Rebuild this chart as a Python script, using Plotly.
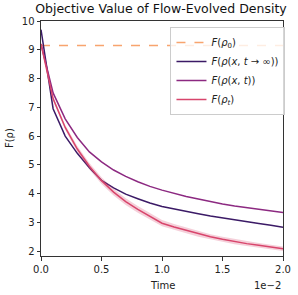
import plotly.graph_objects as go

# time in units of 1e-2
time = [0.0, 0.1, 0.2, 0.3, 0.4, 0.5, 0.6, 0.7, 0.8, 0.9, 1.0,
        1.1, 1.2, 1.3, 1.4, 1.5, 1.6, 1.7, 1.8, 1.9, 2.0]
f_rho0 = 9.15
f_inf = [9.7, 6.95, 6.0, 5.4, 4.9, 4.46, 4.2, 3.98, 3.82, 3.67, 3.55,
         3.46, 3.38, 3.3, 3.22, 3.15, 3.08, 3.02, 2.96, 2.9, 2.83]
f_xt = [9.2, 7.5, 6.6, 5.95, 5.45, 5.1, 4.82, 4.6, 4.41, 4.25, 4.12,
        4.0, 3.9, 3.81, 3.72, 3.64, 3.57, 3.51, 3.45, 3.39, 3.34]
f_t = [9.2, 7.3, 6.3, 5.55, 4.95, 4.45, 4.05, 3.72, 3.45, 3.2, 2.97,
       2.84, 2.72, 2.6, 2.5, 2.41, 2.33, 2.26, 2.2, 2.14, 2.08]
f_t_std = [0.02, 0.06, 0.08, 0.1, 0.11, 0.12, 0.12, 0.12, 0.12, 0.11, 0.11,
           0.1, 0.1, 0.1, 0.09, 0.09, 0.09, 0.08, 0.08, 0.08, 0.08]
xtick_vals = [0.0, 0.5, 1.0, 1.5, 2.0]
xtick_text = ["0.0", "0.5", "1.0", "1.5", "2.0"]
ytick_vals = [2, 3, 4, 5, 6, 7, 8, 9, 10]

c_orange = "#f8a46e"
c_dark = "#3b1a66"
c_purple = "#8c2981"
c_pink = "#d8456c"

fig = go.Figure()
fig.add_trace(go.Scatter(x=[time[0], time[-1]], y=[f_rho0, f_rho0], mode="lines",
                         line=dict(color=c_orange, width=1.5, dash="dash"),
                         name="<i>F</i>(<i>ρ</i><sub>0</sub>)"))
fig.add_trace(go.Scatter(x=time, y=f_inf, mode="lines",
                         line=dict(color=c_dark, width=1.5),
                         name="<i>F</i>(<i>ρ</i>(<i>x</i>, <i>t</i> → ∞))"))
fig.add_trace(go.Scatter(x=time, y=f_xt, mode="lines",
                         line=dict(color=c_purple, width=1.5),
                         name="<i>F</i>(<i>ρ</i>(<i>x</i>, <i>t</i>))"))
upper = [m + s for m, s in zip(f_t, f_t_std)]
lower = [m - s for m, s in zip(f_t, f_t_std)]
fig.add_trace(go.Scatter(x=time, y=upper, mode="lines", line=dict(width=0),
                         showlegend=False, hoverinfo="skip"))
fig.add_trace(go.Scatter(x=time, y=lower, mode="lines", line=dict(width=0),
                         fill="tonexty", fillcolor="rgba(216,69,108,0.25)",
                         showlegend=False, hoverinfo="skip"))
fig.add_trace(go.Scatter(x=time, y=f_t, mode="lines",
                         line=dict(color=c_pink, width=1.5),
                         name="<i>F</i>(<i>ρ</i><sub><i>t</i></sub>)"))

axis_common = dict(showgrid=False, zeroline=False, showline=True, linecolor="#333",
                   linewidth=1, mirror=True, ticks="outside", ticklen=3.5,
                   tickcolor="#333", tickfont=dict(size=10, color="#222"),
                   automargin=False)
fig.update_xaxes(range=[0, 2.0], tickvals=xtick_vals, ticktext=xtick_text,
                 **axis_common)
fig.update_yaxes(range=[1.83, 10], tickvals=ytick_vals, **axis_common)

fig.add_annotation(text="Time", xref="paper", yref="paper", x=0.5, y=-0.095,
                   xanchor="center", yanchor="top", showarrow=False,
                   font=dict(size=10, color="#222"))
fig.add_annotation(text="F(ρ)", xref="paper", yref="paper", x=-0.13, y=0.5,
                   xanchor="center", yanchor="middle", textangle=-90, showarrow=False,
                   font=dict(size=10, color="#222"))
fig.add_annotation(text="1e−2", xref="paper", yref="paper", x=1.0, y=-0.095,
                   xanchor="right", yanchor="top", showarrow=False,
                   font=dict(size=10, color="#222"))

fig.update_layout(
    width=298, height=295,
    margin=dict(l=41, r=15, t=21, b=39),
    paper_bgcolor="white", plot_bgcolor="white",
    font=dict(family="DejaVu Sans", color="#222"),
    title=dict(text="Objective Value of Flow-Evolved Density", x=0.54, xanchor="center",
               y=0.985, yanchor="top", font=dict(size=12.5, color="#111")),
    legend=dict(x=0.535, y=0.975, xanchor="left", yanchor="top", traceorder="normal",
                bgcolor="rgba(255,255,255,0.8)", bordercolor="#ccc", borderwidth=1,
                font=dict(size=10), tracegroupgap=0, itemwidth=30),
    showlegend=True,
)
fig.write_html("out.html", config={"displayModeBar": False},
               post_script="document.body.style.margin='0';")
